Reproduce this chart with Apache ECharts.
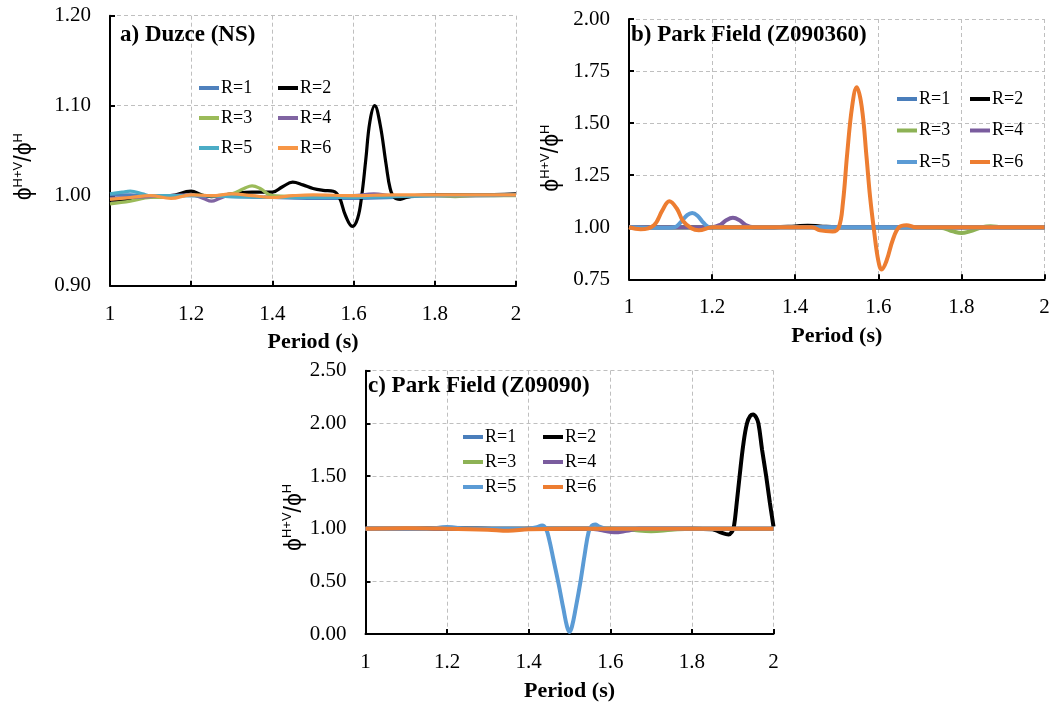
<!DOCTYPE html>
<html>
<head>
<meta charset="utf-8">
<script src="https://cdn.jsdelivr.net/npm/echarts@6/dist/echarts.min.js"></script>
<style>
  html, body { margin: 0; padding: 0; background: #fff; }
  #chart { width: 1059px; height: 708px; }
</style>
</head>
<body>
<div id="chart"></div>
<script>
// Ratio of H+V to H response, plotted against period, for R = 1..6.
const seriesNames = ['R=1', 'R=2', 'R=3', 'R=4', 'R=5', 'R=6'];
const panelTitles = ['a) Duzce (NS)', 'b) Park Field (Z090360)', 'c) Park Field (Z09090)'];
const xTickValues = [1, 1.2, 1.4, 1.6, 1.8, 2];
const yTicksA = [0.90, 1.00, 1.10, 1.20];
const yTicksB = [0.75, 1.00, 1.25, 1.50, 1.75, 2.00];
const yTicksC = [0.00, 0.50, 1.00, 1.50, 2.00, 2.50];

// Panel a: Duzce (NS)  [period, ratio]
const aR1 = [[1,1.001],[1.05,1.001],[1.1,1.0],[1.2,1.0],[1.3,0.999],[1.4,0.998],[1.5,0.997],[1.6,0.997],[1.7,0.998],[1.8,1.0],[1.9,1.0],[2,1.001]];
const aR2 = [[1,0.995],[1.05,0.996],[1.1,0.999],[1.15,1.0],[1.2,1.005],[1.225,1.001],[1.25,0.999],[1.3,1.002],[1.35,1.004],[1.4,1.004],[1.425,1.01],[1.45,1.015],[1.475,1.012],[1.5,1.008],[1.525,1.006],[1.55,1.005],[1.565,0.998],[1.58,0.978],[1.597,0.966],[1.61,0.975],[1.62,1.0],[1.63,1.04],[1.64,1.082],[1.652,1.1],[1.665,1.08],[1.68,1.035],[1.69,1.008],[1.7,0.998],[1.715,0.996],[1.73,0.998],[1.75,1.0],[1.8,1.001],[1.9,1.001],[2,1.002]];
const aR3 = [[1,0.991],[1.05,0.994],[1.1,0.998],[1.15,0.998],[1.2,1.001],[1.25,1.0],[1.3,1.002],[1.33,1.008],[1.35,1.011],[1.37,1.008],[1.4,1.0],[1.5,0.999],[1.6,0.999],[1.7,1.0],[1.8,1.0],[1.85,0.999],[1.9,1.0],[2,1.0]];
const aR4 = [[1,0.997],[1.1,0.999],[1.2,1.001],[1.23,0.997],[1.25,0.994],[1.27,0.997],[1.3,1.001],[1.35,0.999],[1.4,0.998],[1.5,0.999],[1.6,1.0],[1.65,1.002],[1.7,1.0],[1.8,1.0],[2,1.001]];
const aR5 = [[1,1.002],[1.03,1.004],[1.05,1.005],[1.08,1.002],[1.1,1.0],[1.2,1.0],[1.3,0.999],[1.4,0.998],[1.5,0.998],[1.6,0.998],[1.7,0.999],[1.8,1.0],[2,1.001]];
const aR6 = [[1,0.996],[1.05,0.998],[1.1,1.0],[1.15,0.997],[1.2,1.001],[1.25,1.0],[1.3,1.002],[1.35,1.0],[1.4,0.998],[1.45,1.0],[1.5,1.001],[1.6,1.0],[1.7,1.001],[1.8,1.001],[1.9,1.001],[2,1.001]];

// Panel b: Park Field (Z090360)
const bR1 = [[1,1],[1.25,1],[1.5,1],[1.75,1],[2,1]];
const bR2 = [[1,1],[1.35,1],[1.4,1.004],[1.43,1.007],[1.46,1.004],[1.5,1.0],[2,1]];
const bR3 = [[1,1],[1.7,1],[1.75,0.998],[1.78,0.98],[1.8,0.972],[1.82,0.98],[1.85,1.0],[1.87,1.005],[1.9,1.0],[2,1]];
const bR4 = [[1,1],[1.2,1.0],[1.22,1.012],[1.235,1.035],[1.25,1.045],[1.265,1.035],[1.28,1.012],[1.3,1.0],[2,1]];
const bR5 = [[1,1],[1.08,0.997],[1.11,1.0],[1.125,1.025],[1.14,1.058],[1.152,1.068],[1.165,1.055],[1.18,1.02],[1.195,1.0],[1.5,1],[2,1]];
const bR6 = [[1,1.0],[1.028,0.99],[1.06,1.01],[1.08,1.08],[1.097,1.125],[1.115,1.09],[1.13,1.03],[1.15,0.995],[1.168,0.985],[1.2,1.0],[1.3,1.0],[1.4,1.0],[1.44,1.0],[1.46,0.985],[1.49,0.98],[1.505,1.0],[1.515,1.12],[1.525,1.35],[1.537,1.58],[1.548,1.672],[1.56,1.58],[1.572,1.33],[1.58,1.15],[1.59,0.98],[1.6,0.84],[1.608,0.797],[1.62,0.84],[1.635,0.94],[1.65,1.0],[1.668,1.01],[1.69,1.0],[1.8,1.0],[2,1.0]];

// Panel c: Park Field (Z09090)
const cR1 = [[1,1],[1.1,1.0],[1.2,1.01],[1.3,1.0],[1.35,0.99],[1.4,1.0],[1.6,1.0],[2,1]];
const cR2 = [[1,1],[1.5,1.0],[1.8,1.0],[1.85,0.995],[1.87,0.965],[1.89,0.945],[1.898,0.97],[1.903,1.02],[1.91,1.25],[1.917,1.5],[1.926,1.8],[1.935,2.0],[1.943,2.07],[1.95,2.085],[1.957,2.06],[1.963,2.0],[1.972,1.75],[1.982,1.5],[1.991,1.25],[2,1.02]];
const cR3 = [[1,1],[1.6,1.0],[1.65,0.99],[1.7,0.975],[1.75,0.99],[1.8,1.0],[2,1]];
const cR4 = [[1,1],[1.5,1.0],[1.55,1.0],[1.58,0.985],[1.61,0.965],[1.64,0.98],[1.67,1.0],[2,1]];
const cR5 = [[1,1],[1.15,1.0],[1.2,1.015],[1.25,1.0],[1.4,1.0],[1.42,1.015],[1.433,1.03],[1.442,1.0],[1.45,0.9],[1.461,0.7],[1.473,0.48],[1.485,0.24],[1.494,0.07],[1.5,0.02],[1.506,0.07],[1.515,0.24],[1.527,0.5],[1.537,0.75],[1.547,0.97],[1.555,1.03],[1.563,1.04],[1.573,1.02],[1.59,1.0],[2,1]];
const cR6 = [[1,1],[1.1,1.005],[1.2,1.0],[1.3,0.99],[1.35,0.98],[1.4,0.995],[1.5,1.0],[1.6,1.0],[1.7,1.0],[2,1.0]];

const panelData = [
  [aR1, aR2, aR3, aR4, aR5, aR6],
  [bR1, bR2, bR3, bR4, bR5, bR6],
  [cR1, cR2, cR3, cR4, cR5, cR6]
];
const panelColors = [
  ['#4F81BD', '#000000', '#9BBB59', '#8064A2', '#4BACC6', '#F79646'],
  ['#4A7EBB', '#000000', '#8DB255', '#7A5C9E', '#5B9BD5', '#ED7D31'],
  ['#4A7EBB', '#000000', '#8DB255', '#7A5C9E', '#5B9BD5', '#ED7D31']
];
const yTickSets = [yTicksA, yTicksB, yTicksC];

const SERIF = '"Liberation Serif", "Times New Roman", serif';
const SANS = '"Liberation Sans", "DejaVu Sans", sans-serif';

const grids = [
  { left: 110, top: 15.7, width: 406, height: 270 },
  { left: 629, top: 19, width: 415.5, height: 260.3 },
  { left: 365.5, top: 370.7, width: 408, height: 263.3 }
];
const yNameGap = [72, 64, 58];
const yNamePad = [[0, 32, 0, 0], [0, 18, 0, 0], [0, 30, 0, 0]];
const titlePos = [[120, 24], [631, 24], [368, 375]];
// legend columns: [left of column 1, left of column 2, top, row gap]
const legendPos = [[199, 278, 79, 12], [897, 970, 90, 13.5], [463, 543, 428, 7]];
const lineWidths = [3.2, 4, 4];

const xAxes = [], yAxes = [], series = [], legends = [], titles = [];

grids.forEach((g, p) => {
  const ticks = yTickSets[p];
  xAxes.push({
    type: 'value', gridIndex: p,
    min: xTickValues[0], max: xTickValues[xTickValues.length - 1], interval: 0.2,
    name: 'Period (s)', nameLocation: 'middle', nameGap: 46,
    nameTextStyle: { fontFamily: SERIF, fontSize: 22, fontWeight: 'bold', color: '#000' },
    axisLine: { lineStyle: { color: '#000', width: 2 } },
    axisTick: { inside: true, length: 5, lineStyle: { color: '#000', width: 2 } },
    axisLabel: {
      fontFamily: SERIF, fontSize: 21, color: '#000', margin: 18,
      formatter: v => (Math.abs(v - Math.round(v)) < 1e-9 ? String(Math.round(v)) : v.toFixed(1))
    },
    splitLine: { show: true, lineStyle: { color: '#BFBFBF', width: 1, type: [4, 3] } }
  });
  yAxes.push({
    type: 'value', gridIndex: p,
    min: ticks[0], max: ticks[ticks.length - 1], interval: ticks[1] - ticks[0],
    name: '{p|ϕ}{s|H+V}{p|/ϕ}{s|H}', nameLocation: 'middle', nameGap: yNameGap[p],
    nameTextStyle: {
      color: '#000', padding: yNamePad[p],
      rich: {
        p: { fontFamily: SANS, fontSize: 23, color: '#000', lineHeight: 26 },
        s: { fontFamily: SANS, fontSize: 13, color: '#000', verticalAlign: 'top', lineHeight: 14 }
      }
    },
    axisLine: { lineStyle: { color: '#000', width: 2 } },
    axisTick: { inside: true, length: 5, lineStyle: { color: '#000', width: 2 } },
    axisLabel: { fontFamily: SERIF, fontSize: 21, color: '#000', margin: 19, formatter: v => v.toFixed(2) },
    splitLine: { show: true, lineStyle: { color: '#BFBFBF', width: 1, type: [4, 3] } }
  });
  titles.push({
    text: panelTitles[p], left: titlePos[p][0], top: titlePos[p][1], padding: 0,
    textStyle: { fontFamily: SERIF, fontSize: 23, fontWeight: 'bold', color: '#000' }
  });
  panelData[p].forEach((d, i) => {
    series.push({
      name: seriesNames[i], type: 'line', xAxisIndex: p, yAxisIndex: p,
      data: d, showSymbol: false, symbol: 'none', smooth: 0.4,
      lineStyle: { color: panelColors[p][i], width: lineWidths[p] },
      itemStyle: { color: panelColors[p][i] },
      z: 2 + i
    });
  });
  const lp = legendPos[p];
  [[0, 2, 4], [1, 3, 5]].forEach((col, c) => {
    legends.push({
      orient: 'vertical', left: lp[c], top: lp[2], itemGap: lp[3], padding: 0,
      itemWidth: 20, itemHeight: 4, icon: 'rect', selectedMode: false,
      textStyle: { fontFamily: SERIF, fontSize: 18, color: '#000', lineHeight: 18, padding: [0, 0, 0, -3] },
      data: col.map(i => ({ name: seriesNames[i], itemStyle: { color: panelColors[p][i] } }))
    });
  });
});

const chart = echarts.init(document.getElementById('chart'), null, { renderer: 'canvas' });
chart.setOption({
  animation: false,
  backgroundColor: '#fff',
  title: titles,
  grid: grids,
  xAxis: xAxes,
  yAxis: yAxes,
  legend: legends,
  series: series
});
</script>
</body>
</html>
